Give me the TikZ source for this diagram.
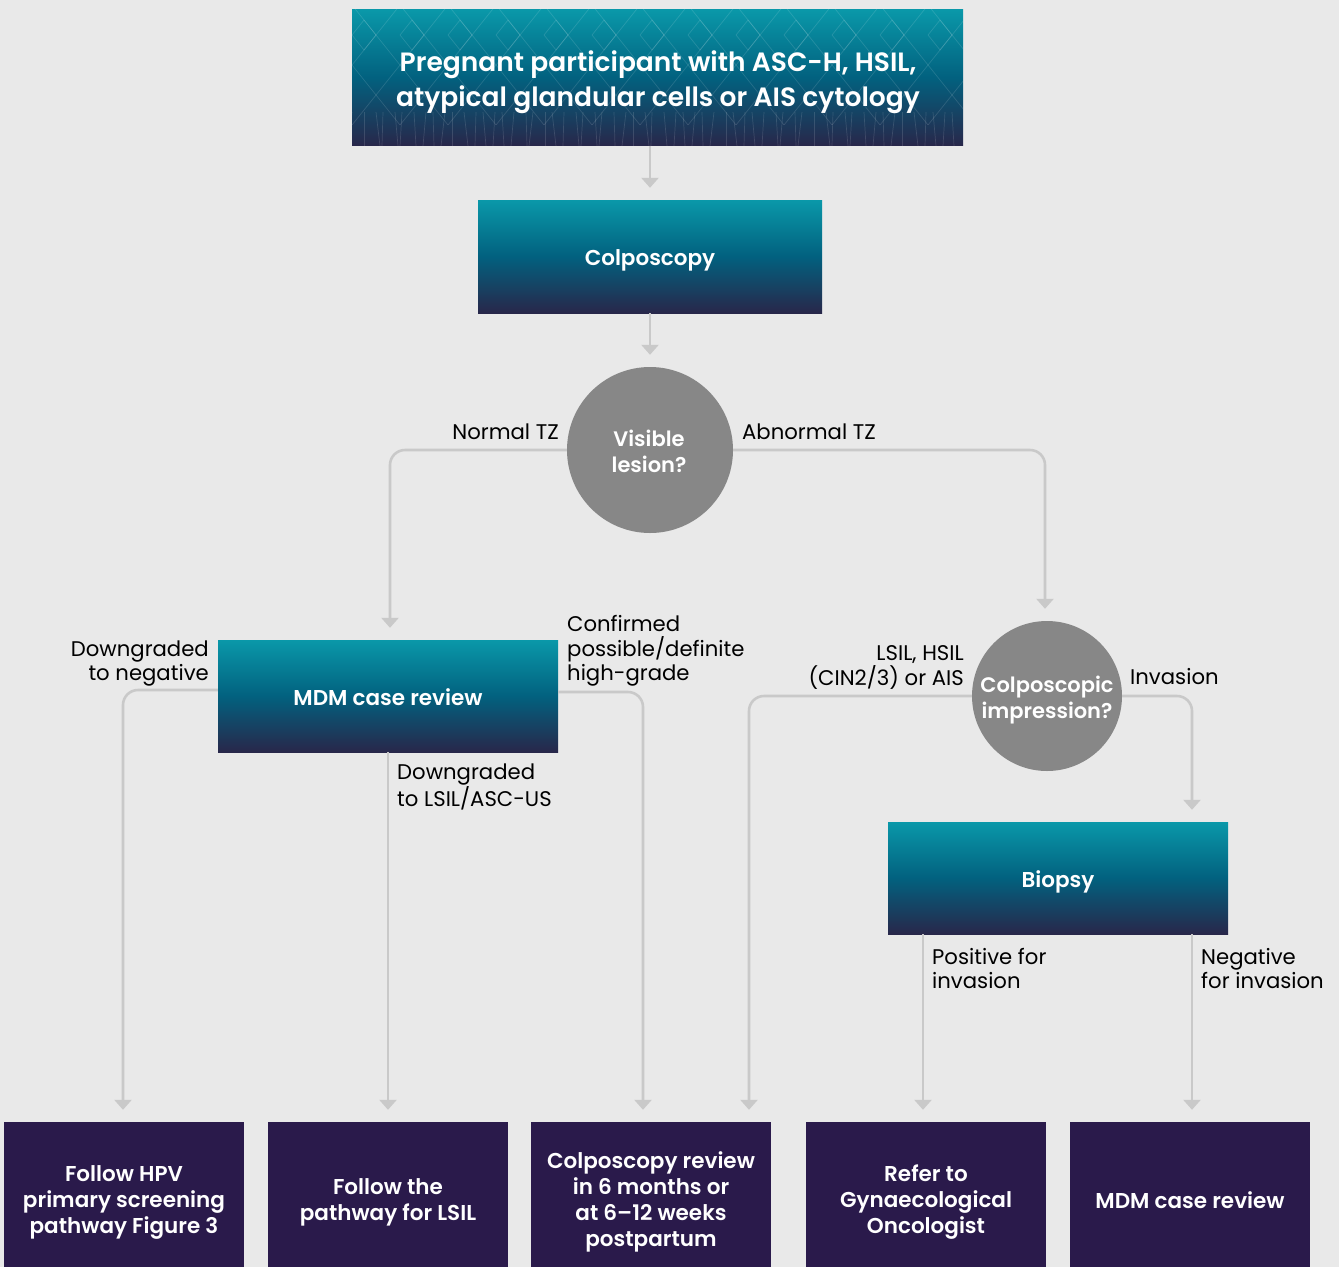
\documentclass[tikz,border=0pt]{standalone}
\usepackage{fontspec}
\setmainfont{Poppins}[BoldFont={Poppins SemiBold}]
\usetikzlibrary{arrows.meta}
\definecolor{bg}{HTML}{E9E9E9}
\definecolor{tealtop}{HTML}{0A98A9}
\definecolor{tealmid}{HTML}{02617F}
\definecolor{navybot}{HTML}{28274A}
\definecolor{purp}{HTML}{2A1A4B}
\definecolor{decgrey}{HTML}{878787}
\definecolor{lineg}{HTML}{C9C9C9}
\tikzset{
  tealbox/.style={rectangle, inner sep=0pt, top color=tealtop, bottom color=navybot, middle color=tealmid, draw=none},
  boxtext/.style={text=white, align=center, font=\bfseries\fontsize{21.5}{26}\selectfont},
  darkbox/.style={rectangle, inner sep=0pt, fill=purp, minimum width=240pt, minimum height=145pt},
  darktext/.style={text=white, align=center, font=\bfseries\fontsize{21.5}{26}\selectfont},
  decision/.style={circle, inner sep=0pt, fill=decgrey, text=white, align=center, font=\bfseries\fontsize{21}{26}\selectfont},
  conn/.style={draw=lineg, line width=2.6pt, -{Triangle[width=17pt,length=10pt]}, shorten >=12pt, rounded corners=15pt},
  lab/.style={inner sep=0pt, text=black, font=\fontsize{21.2}{24.3}\selectfont},
  patt/.style={draw=white, opacity=0.13, line width=0.7pt}
}
\begin{document}
\begin{tikzpicture}[x=1pt,y=-1pt]
\fill[bg] (0,0) rectangle (1339,1267);
\useasboundingbox (0,0) rectangle (1339,1267);

% top box
\node[tealbox, minimum width=611pt, minimum height=136pt] (top) at (657.5,77.5) {};
\begin{scope}
\clip (352,9.5) rectangle (963,145.5);
\foreach \k in {0,...,13} {
  \draw[patt] ({352+48*\k},5) -- ({376+48*\k},35) -- ({352+48*\k},65) -- ({376+48*\k},95) -- ({352+48*\k},125);
  \draw[patt] ({400+48*\k},5) -- ({376+48*\k},35) -- ({400+48*\k},65) -- ({376+48*\k},95) -- ({400+48*\k},125);
  \draw[patt] ({364+48*\k},20) -- ({376+48*\k},35) -- ({364+48*\k},50) -- ({352+48*\k},35) -- cycle;
}
\foreach \k in {0,...,60} {
  \pgfmathsetmacro{\xa}{352+10*\k+mod(\k*7,5)}
  \pgfmathsetmacro{\xb}{\xa+mod(\k*13,9)-4}
  \draw[patt] (\xa,112) -- (\xb,146);
}
\end{scope}
\node[text=white, align=center, font=\bfseries\fontsize{26.5}{35}\selectfont] (toptext) at (658,82) {Pregnant participant with ASC-H, HSIL,\\atypical glandular cells or AIS cytology};

% main nodes
\node[tealbox, minimum width=344pt, minimum height=113pt] (colp) at (650,256.5) {};
\node[boxtext] (colpt) at (650,260) {Colposcopy};
\node[decision, minimum size=166pt] (vis) at (650,450) {};
\node[decision, fill=none] (vist) at (649,451) {Visible\\lesion?};
\node[tealbox, minimum width=340pt, minimum height=112pt] (mdm) at (388,696) {};
\node[boxtext] (mdmt) at (388,697) {MDM case review};
\node[decision, minimum size=150pt] (ci) at (1047,696) {};
\node[decision, fill=none] (cit) at (1047,700) {Colposcopic\\impression?};
\node[tealbox, minimum width=340pt, minimum height=112pt] (bio) at (1058,878) {};
\node[boxtext] (biot) at (1058,882) {Biopsy};

% bottom boxes
\node[darkbox] (b1) at (124,1194.5) {};
\node[darkbox] (b2) at (388,1194.5) {};
\node[darkbox] (b3) at (651,1194.5) {};
\node[darkbox] (b4) at (926,1194.5) {};
\node[darkbox] (b5) at (1190,1194.5) {};
\node[darktext] (b1t) at (124,1202) {Follow HPV\\primary screening\\pathway Figure 3};
\node[darktext] (b2t) at (388,1202) {Follow the\\pathway for LSIL};
\node[darktext] (b3t) at (651,1202) {Colposcopy review\\in 6 months or\\at 6--12 weeks\\postpartum};
\node[darktext] (b4t) at (926,1202) {Refer to\\Gynaecological\\Oncologist};
\node[darktext] (b5t) at (1190,1200) {MDM case review};

% connectors
\draw[conn] (colp.north |- top.south) -- (colp.north);
\draw[conn] (colp.south) -- (vis.north);
\draw[conn] (vis.west) -| ([xshift=2pt]mdm.north);
\draw[conn] (vis.east) -| ([xshift=-2pt]ci.north);
\draw[conn] ([yshift=6pt]mdm.west) -| ([xshift=-1pt]b1.north);
\draw[conn] (mdm.south) -- (b2.north);
\draw[conn] ([yshift=4pt]mdm.east) -| ([xshift=-8pt]b3.north);
\draw[conn] (ci.west) -| ([xshift=98pt]b3.north);
\draw[conn] (ci.east) -| ([xshift=134pt]bio.north);
\draw[conn] ([xshift=-135pt]bio.south) -- ([xshift=-3pt]b4.north);
\draw[conn] ([xshift=134pt]bio.south) -- ([xshift=2pt]b5.north);

% labels
\node[lab, anchor=base east] (l1) at (559,439) {Normal TZ};
\node[lab, anchor=base west] (l2) at (742,439) {Abnormal TZ};
\node[lab, anchor=east, align=right] (l3) at (209,663.5) {Downgraded\\to negative};
\node[lab, anchor=west, align=left] (l4) at (567,651) {Confirmed\\possible/definite\\high-grade};
\node[lab, anchor=west, align=left] (l5) at (397,787) {Downgraded\\to LSIL/ASC-US};
\node[lab, anchor=east, align=right] (l6) at (964,667.5) {LSIL, HSIL\\(CIN2/3) or AIS};
\node[lab, anchor=west] (l7) at (1130,677) {Invasion};
\node[lab, anchor=west, align=left] (l8) at (932,968.5) {Positive for\\invasion};
\node[lab, anchor=west, align=left] (l9) at (1201,968.5) {Negative\\for invasion};
\end{tikzpicture}
\end{document}
